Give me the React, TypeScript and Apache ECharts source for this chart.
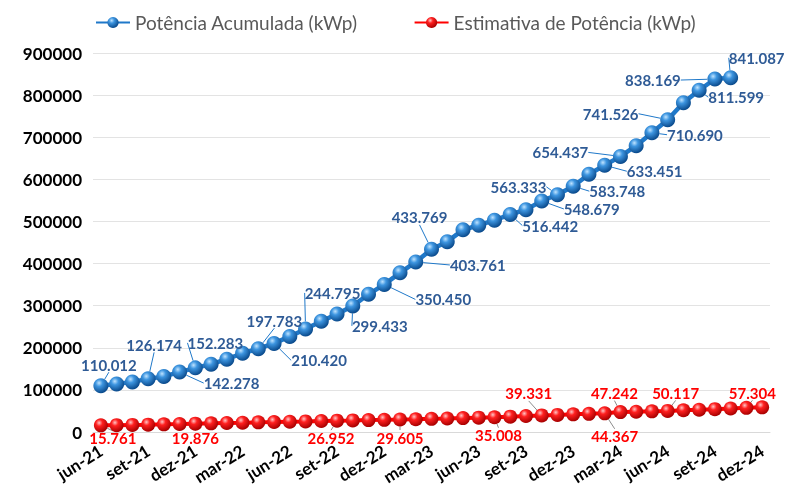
import React, { useEffect, useRef } from "react";
import * as echarts from "echarts";

const months = ["jan", "fev", "mar", "abr", "mai", "jun", "jul", "ago", "set", "out", "nov", "dez"];
const categories: string[] = [];
for (let y = 21; y <= 24; y++) {
  for (let m = 0; m < 12; m++) {
    if (y === 21 && m < 5) continue;
    categories.push(`${months[m]}-${y}`);
  }
}

const potenciaAcumulada = [
  110012, 114000, 119000, 126174, 132000, 142278, 152283, 161000, 173000, 187000,
  197783, 210420, 227000, 244795, 263000, 280000, 299433, 327000, 350450, 378000,
  403761, 433769, 452000, 480000, 491000, 503000, 516442, 528000, 548679, 563333,
  583748, 612000, 633451, 654437, 680000, 710690, 741526, 782000, 811599, 838169,
  841087,
];

const estimativaPotencia = [
  15761, 16300, 16900, 17500, 18200, 19000, 19876, 20600, 21400, 22100,
  22900, 23600, 24400, 25200, 26100, 26952, 27600, 28300, 28900, 29605,
  30400, 31300, 32100, 33000, 34000, 35008, 36400, 37900, 39331, 40600,
  41900, 43100, 44367, 47242, 48200, 49100, 50117, 51500, 52900, 54300,
  55800, 57304, 58500,
];

const blueLabeled = [0, 3, 5, 6, 10, 11, 13, 16, 18, 20, 21, 26, 28, 29, 30, 32, 33, 35, 36, 38, 39, 40];
const redLabeled = [0, 6, 15, 19, 25, 28, 32, 33, 36, 41];

// label offsets (layout only): [dx, dy] from the point centre
const blueOffsets: Record<number, [number, number]> = {
  0: [8, -21], 3: [6, -34], 5: [52, 11], 6: [20, -25], 10: [16, -28], 11: [45, 17],
  13: [27, -36], 16: [27, 20], 18: [59, 15], 20: [62, 3], 21: [-12, -32],
  26: [40, 11], 28: [50, 8], 29: [-39, -8], 30: [44, 5], 32: [50, 6], 33: [-60, -4],
  35: [43, 2], 36: [-57, -6], 38: [37, 7], 39: [-62, 1], 40: [26, -20],
};
const redOffsets: Record<number, [number, number]> = {
  0: [12, 13], 6: [0, 14], 15: [-6, 17], 19: [0, 18], 25: [4, 18], 28: [-13, -22],
  32: [10, 23], 33: [-6, -19], 36: [8, -18], 41: [6, -15],
};

const fmt = (v: number) => (v / 1000).toFixed(3);

const blueSphere = {
  type: "radial", x: 0.38, y: 0.32, r: 0.68,
  colorStops: [
    { offset: 0, color: "#bfe3ff" },
    { offset: 0.35, color: "#3d95e0" },
    { offset: 1, color: "#0a4a8c" },
  ],
};
const redSphere = {
  type: "radial", x: 0.38, y: 0.32, r: 0.68,
  colorStops: [
    { offset: 0, color: "#ffc4c4" },
    { offset: 0.35, color: "#ff2020" },
    { offset: 1, color: "#a80000" },
  ],
};

export default function App() {
  const ref = useRef<HTMLDivElement>(null);
  useEffect(() => {
    if (!ref.current) return;
    const chart = echarts.init(ref.current, null, { renderer: "svg" });
    const font = "Lato, 'Open Sans', sans-serif";
    chart.setOption({
      animation: false,
      textStyle: { fontFamily: font },
      legend: {
        top: 8,
        left: 90,
        itemGap: 56,
        itemWidth: 34,
        itemHeight: 14,
        textStyle: { color: "#595959", fontSize: 19, fontFamily: font },
        data: ["Potência Acumulada (kWp)", "Estimativa de Potência (kWp)"],
      },
      grid: { left: 93, right: 16, top: 53, bottom: 57, containLabel: false },
      xAxis: {
        type: "category",
        data: categories,
        boundaryGap: true,
        axisLine: { lineStyle: { color: "#d9d9d9" } },
        axisTick: { show: false },
        axisLabel: {
          interval: 2,
          rotate: 32,
          margin: 17,
          color: "#000",
          fontWeight: "bold",
          fontSize: 17,
          fontFamily: font,
        },
      },
      yAxis: {
        type: "value",
        min: 0,
        max: 900000,
        interval: 100000,
        axisLine: { show: false },
        axisTick: { show: false },
        splitLine: { lineStyle: { color: "#e3e3e3" } },
        axisLabel: {
          color: "#000",
          fontWeight: "bold",
          fontSize: 17,
          margin: 11,
          fontFamily: font,
          formatter: (v: number) => String(v),
        },
      },
      series: [
        {
          name: "Potência Acumulada (kWp)",
          type: "line",
          data: potenciaAcumulada.map((v, i) => ({
            value: v,
            label: { show: blueLabeled.includes(i) },
          })),
          symbol: "circle",
          symbolSize: 15,
          showAllSymbol: true,
          lineStyle: { color: "#1f78c9", width: 4.5 },
          itemStyle: { color: blueSphere, borderWidth: 0 },
          label: {
            show: false,
            formatter: (p: any) => fmt(p.value),
            color: "#2f5b96",
            fontWeight: "bold",
            fontSize: 15,
            fontFamily: font,
          },
          labelLine: { show: true, lineStyle: { color: "#1f78c9", width: 1 } },
          labelLayout: (p: any) => {
            const o = blueOffsets[p.dataIndex] || [0, -20];
            return {
              x: p.rect.x + p.rect.width / 2 + o[0],
              y: p.rect.y + p.rect.height / 2 + o[1],
              align: "center",
              verticalAlign: "middle",
            };
          },
          z: 3,
        },
        {
          name: "Estimativa de Potência (kWp)",
          type: "line",
          data: estimativaPotencia.map((v, i) => ({
            value: v,
            label: { show: redLabeled.includes(i) },
          })),
          symbol: "circle",
          symbolSize: 14,
          showAllSymbol: true,
          lineStyle: { color: "#ff0000", width: 4 },
          itemStyle: { color: redSphere, borderWidth: 0 },
          label: {
            show: false,
            formatter: (p: any) => fmt(p.value),
            color: "#ff0000",
            fontWeight: "bold",
            fontSize: 15,
            fontFamily: font,
          },
          labelLine: { show: true, lineStyle: { color: "#8c8c8c", width: 1 } },
          labelLayout: (p: any) => {
            const o = redOffsets[p.dataIndex] || [0, 18];
            return {
              x: p.rect.x + p.rect.width / 2 + o[0],
              y: p.rect.y + p.rect.height / 2 + o[1],
              align: "center",
              verticalAlign: "middle",
            };
          },
          z: 2,
        },
      ],
    });
    return () => chart.dispose();
  }, []);
  return (
    <div
      ref={ref}
      style={{ position: "fixed", left: 0, top: 0, width: 786, height: 489 }}
    />
  );
}
